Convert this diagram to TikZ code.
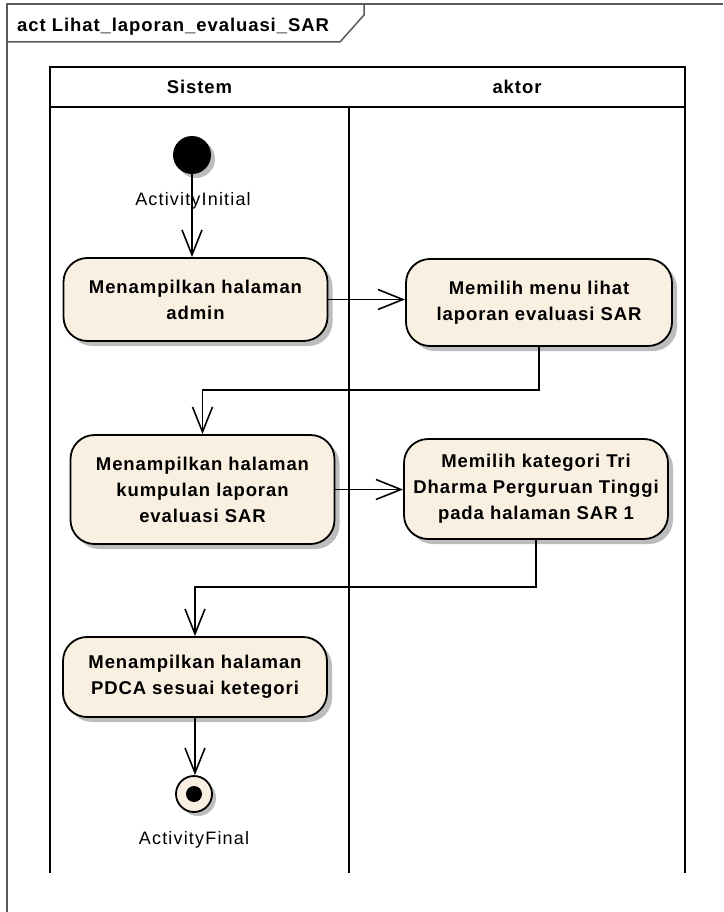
\documentclass[tikz,border=0pt]{standalone}
\usepackage{fontspec}
\setmainfont{Liberation Sans}
\newfontfamily\umlfont[LetterSpace=5]{Liberation Sans}
\newfontfamily\tagfont[LetterSpace=6.5]{Liberation Sans}
\usetikzlibrary{positioning, arrows.meta, shadows, calc}
\definecolor{actfill}{HTML}{FAF0E1}
\definecolor{shade}{HTML}{BDBDBD}
\definecolor{frameline}{HTML}{5A5A5A}

\begin{document}
\begin{tikzpicture}[
  x=1pt, y=-1pt,
  every node/.style={inner sep=0pt},
  action/.style={
    draw, line width=1.8pt, fill=actfill, rounded corners=24pt,
    minimum width=264pt, align=center,
    font=\umlfont\bfseries\fontsize{18.5}{26}\selectfont,
    drop shadow={shadow xshift=5pt, shadow yshift=-5pt, fill=shade, opacity=1}
  },
  head/.style={font=\umlfont\bfseries\fontsize{18.5}{20}\selectfont},
  tag/.style={font=\tagfont\fontsize{18}{20}\selectfont},
  lane/.style={line width=2.4pt},
  flow/.style={line width=1.6pt, -{Straight Barb[length=25pt, width=20pt, line width=1.6pt]}}
]
  \useasboundingbox (0,0) rectangle (723,912);

  % frame and title tab
  \draw[frameline, line width=1.5pt] (7,912) -- (7,4) -- (723,4);
  \draw[frameline, line width=1.5pt] (7,42) -- (340,42) -- (364,15) -- (364,4);
  \node[head, anchor=base west] (title) at (17,32) {act Lihat\_laporan\_evaluasi\_SAR};

  % swimlanes
  \draw[lane] (50,67) rectangle (685,107);
  \draw[lane] (50,107) -- (50,873) (349,107) -- (349,873) (685,107) -- (685,873);
  \node[head] (sistem) at (199.5,87) {Sistem};
  \node[head] (aktor) at (517,87) {aktor};

  % start
  \node[circle, fill=black, minimum size=38pt,
    drop shadow={shadow xshift=4pt, shadow yshift=-4pt, fill=shade, opacity=1}] (init) at (192,155) {};
  \node[tag] (initlbl) at (193,201) {ActivityInitial};

  % actions
  \node[action, minimum height=83pt] (b1) at (195.5,299.5) {Menampilkan halaman\\admin};
  \node[action, minimum width=266pt, minimum height=87pt] (b2) at (539,302.5) {Memilih menu lihat\\laporan evaluasi SAR};
  \node[action, minimum height=109pt] (b3) at (202.5,489.5) {Menampilkan halaman\\kumpulan laporan\\evaluasi SAR};
  \node[action, minimum height=100pt] (b4) at (536,489) {Memilih kategori Tri\\Dharma Perguruan Tinggi\\pada halaman SAR 1};
  \node[action, minimum height=80pt] (b5) at (195,677) {Menampilkan halaman\\PDCA sesuai ketegori};

  % end
  \node[circle, draw, line width=1.8pt, fill=actfill, minimum size=36pt,
    drop shadow={shadow xshift=4pt, shadow yshift=-4pt, fill=shade, opacity=1}] (final) at (194,794) {};
  \node[circle, fill=black, minimum size=16pt] (finaldot) at (final) {};
  \node[tag] (finallbl) at (194,840) {ActivityFinal};

  % flows
  \draw[flow] (init.south) -- (init.south |- b1.north);
  \draw[flow] (b1.east) -- (b1.east -| b2.west);
  \draw[flow] (b2.south) -- ++(0,43) -| (b3.north);
  \draw[flow] (b3.east) -- (b3.east -| b4.west);
  \draw[flow] (b4.south) -- ++(0,47) -| (b5.north);
  \draw[flow] (b5.south) -- (b5.south |- final.north);
\end{tikzpicture}
\end{document}
